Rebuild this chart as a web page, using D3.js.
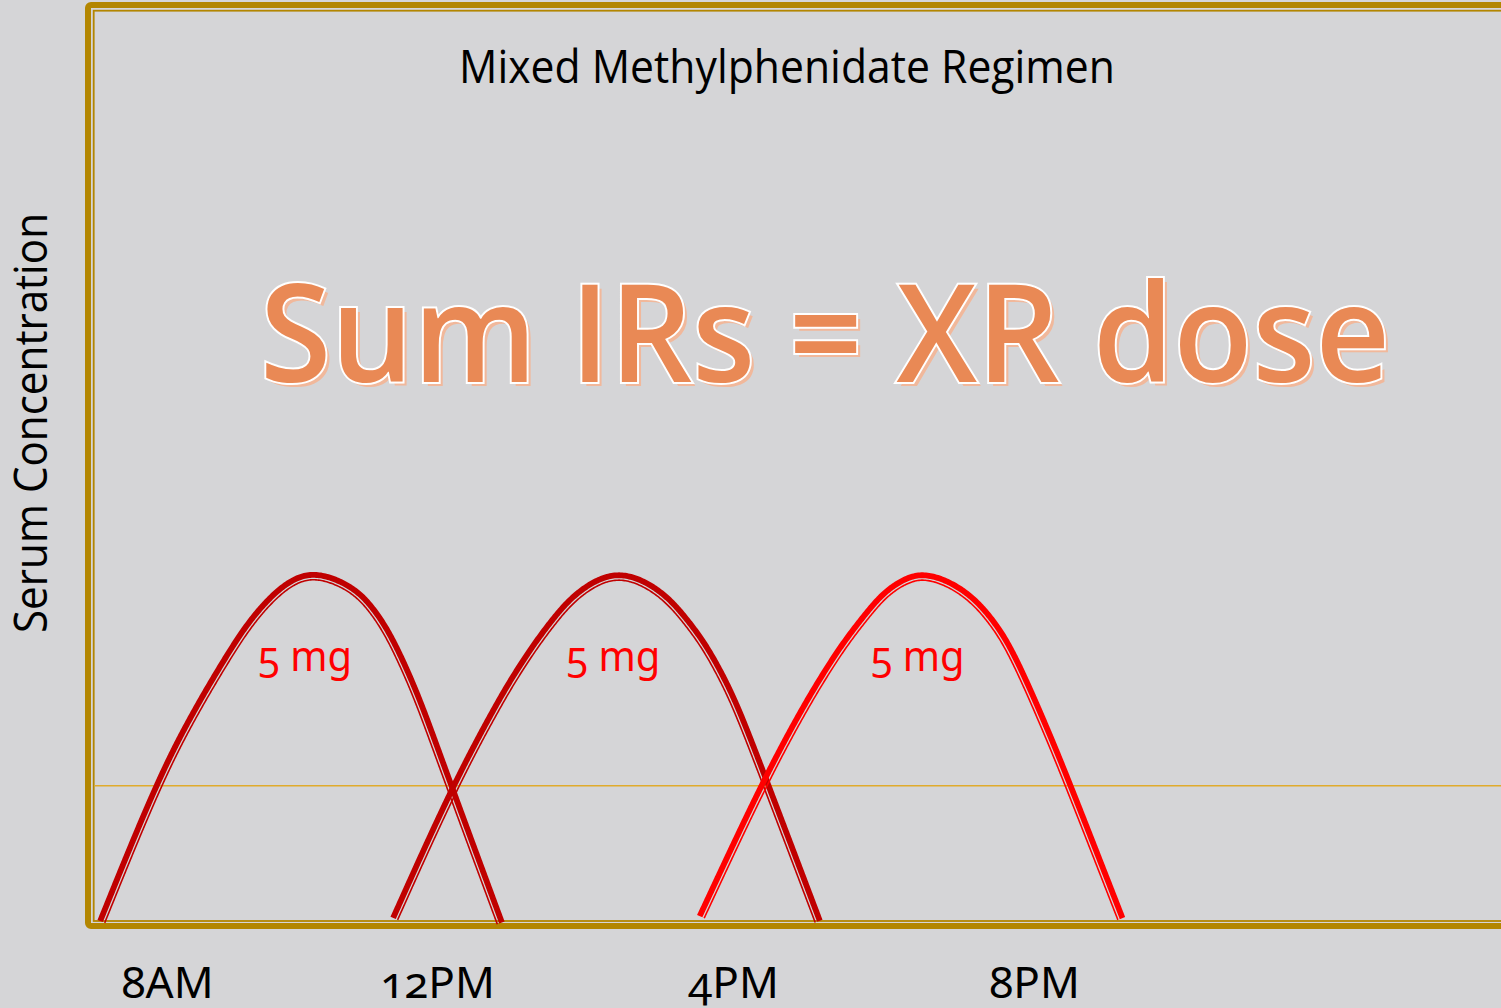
<!DOCTYPE html>
<html lang="en">
<head>
<meta charset="UTF-8">
<script src="https://d3js.org/d3.v7.min.js"></script>
<title>Mixed Methylphenidate Regimen</title>
<style>
  body { margin: 0; background: #d5d5d7; }
  svg { display: block; }
  .num { font-variant-numeric: oldstyle-nums; font-feature-settings: "onum" 1; }
</style>
</head>
<body>
<svg id="chart" width="1501" height="1008"></svg>
<script>
// chart text
const title = "Mixed Methylphenidate Regimen";
const yLabel = "Serum Concentration";
const headline = "Sum IRs = XR dose";

// x axis: hour of day
const tickHours = [8, 12, 16, 20];
const tickLabels = ["8AM", "12PM", "4PM", "8PM"];

// three immediate release doses: [hour, concentration]
const dose1 = [[7.01, 0], [7.82, 3.89], [8.34, 5.88], [8.93, 7.81], [9.23, 8.67], [9.53, 9.34],
               [9.82, 9.81], [10.12, 10.03], [10.46, 9.90], [10.81, 9.54], [11.06, 9.01],
               [11.30, 8.30], [11.55, 7.28], [11.79, 6.17], [12.15, 4.15], [12.88, -0.06]];
const dose2 = [[11.35, 0.09], [12.20, 3.86], [12.78, 6.17], [13.05, 7.14], [13.32, 8.01], [13.57, 8.72],
               [13.82, 9.34], [14.14, 9.83], [14.45, 10.03], [14.79, 9.83], [15.12, 9.34],
               [15.37, 8.72], [15.62, 8.01], [15.85, 7.14], [16.07, 6.17], [16.43, 4.15], [17.16, -0.03]];
const dose3 = [[15.55, 0.14], [16.40, 4.06], [16.93, 6.17], [17.20, 7.14], [17.46, 8.01], [17.73, 8.77],
               [17.99, 9.45], [18.26, 9.85], [18.52, 10.03], [18.86, 9.81], [19.19, 9.34],
               [19.46, 8.67], [19.72, 7.81], [20.17, 5.59], [20.49, 3.89], [21.18, 0.06]];
const doseLabels = ["5 mg", "5 mg", "5 mg"];
const doseColors = ["#c00000", "#c00000", "#ff0000"];

// therapeutic threshold
const threshold = 3.9;

const svg = d3.select("#chart");
const W = 1501, H = 1008;
const gold = "#b38600";

svg.append("rect").attr("width", W).attr("height", H).attr("fill", "#d5d5d7");

const x = d3.scaleLinear().domain(tickHours).range([167, 437, 733, 1034]);
const y = d3.scaleLinear().domain([0, 10]).range([921, 574]);

// frame (double border)
svg.append("rect")
    .attr("x", 88).attr("y", 5)
    .attr("width", 1500).attr("height", 921)
    .attr("rx", 3)
    .attr("fill", "none")
    .attr("stroke", gold)
    .attr("stroke-width", 6);

svg.append("rect")
    .attr("x", 93.7).attr("y", 10.7)
    .attr("width", 1500).attr("height", y(0) - 10.7)
    .attr("fill", "none")
    .attr("stroke", gold)
    .attr("stroke-width", 1.8);

// threshold line
svg.append("line")
    .attr("x1", 94.6).attr("x2", W)
    .attr("y1", y(threshold)).attr("y2", y(threshold))
    .attr("stroke", "#e0ab2c")
    .attr("stroke-width", 1.5);

// title
svg.append("text")
    .attr("x", 787).attr("y", 83)
    .attr("text-anchor", "middle")
    .attr("font-family", "Open Sans")
    .attr("font-size", 46)
    .attr("textLength", 656)
    .attr("lengthAdjust", "spacingAndGlyphs")
    .attr("fill", "#000")
    .text(title);

// y axis label
svg.append("text")
    .attr("transform", "translate(47, 423) rotate(-90)")
    .attr("text-anchor", "middle")
    .attr("font-family", "Open Sans")
    .attr("font-size", 45)
    .attr("textLength", 420)
    .attr("lengthAdjust", "spacingAndGlyphs")
    .attr("fill", "#000")
    .text(yLabel);

// x axis labels
const xAxis = d3.axisBottom(x)
    .tickValues(tickHours)
    .tickFormat((d, i) => tickLabels[i])
    .tickSize(0);

const gx = svg.append("g")
    .attr("transform", "translate(0, 998)")
    .call(xAxis);
gx.select(".domain").remove();
gx.selectAll("text")
    .attr("y", 0).attr("dy", 0)
    .attr("class", "num")
    .attr("font-family", "Noto Sans")
    .attr("font-size", 44)
    .attr("fill", "#000");

// double line curve: thick outer stroke, thin inner stroke
const line = d3.line()
    .x(d => x(d[0]))
    .y(d => y(d[1]))
    .curve(d3.curveBasis);

const offsetLine = (node, off) => {
    const len = node.getTotalLength();
    const pts = [];
    const step = 1.5;
    for (let s = 0; s <= len; s += step) {
        const p = node.getPointAtLength(s);
        const a = node.getPointAtLength(Math.max(0, s - 0.5));
        const b = node.getPointAtLength(Math.min(len, s + 0.5));
        let tx = b.x - a.x, ty = b.y - a.y;
        const n = Math.hypot(tx, ty) || 1;
        tx /= n; ty /= n;
        pts.push([p.x - ty * off, p.y + tx * off]);
    }
    return "M" + pts.map(p => p[0].toFixed(2) + "," + p[1].toFixed(2)).join("L");
};

const doses = [dose1, dose2, dose3];

doses.forEach((data, i) => {
    const g = svg.append("g");
    const guide = g.append("path")
        .attr("d", line(data))
        .attr("fill", "none")
        .attr("stroke", "none");
    const node = guide.node();

    g.append("path")
        .attr("d", offsetLine(node, 0))
        .attr("fill", "none")
        .attr("stroke", doseColors[i])
        .attr("stroke-width", 5.8);

    g.append("path")
        .attr("d", offsetLine(node, 4.9))
        .attr("fill", "none")
        .attr("stroke", doseColors[i])
        .attr("stroke-width", 1.6);

    guide.remove();

    const peak = data.reduce((m, d) => d[1] > m[1] ? d : m);
    svg.append("text")
        .attr("class", "num")
        .attr("x", x(peak[0]) - 5)
        .attr("y", y(7.2))
        .attr("text-anchor", "middle")
        .attr("font-family", "Noto Sans")
        .attr("font-size", 42)
        .attr("textLength", 94)
        .attr("lengthAdjust", "spacingAndGlyphs")
        .attr("fill", "#ff0000")
        .text(doseLabels[i]);
});

// headline with shadow and white outline
svg.append("text")
    .attr("x", 829).attr("y", 386)
    .attr("text-anchor", "middle")
    .attr("font-family", "Open Sans")
    .attr("font-weight", 600)
    .attr("font-size", 136)
    .attr("textLength", 1130)
    .attr("lengthAdjust", "spacingAndGlyphs")
    .attr("fill", "#f1b89b")
    .text(headline);

svg.append("text")
    .attr("x", 825).attr("y", 382)
    .attr("text-anchor", "middle")
    .attr("font-family", "Open Sans")
    .attr("font-weight", 600)
    .attr("font-size", 136)
    .attr("textLength", 1130)
    .attr("lengthAdjust", "spacingAndGlyphs")
    .attr("fill", "#e98955")
    .attr("stroke", "#ffffff")
    .attr("stroke-width", 4)
    .attr("paint-order", "stroke")
    .text(headline);
</script>
</body>
</html>
